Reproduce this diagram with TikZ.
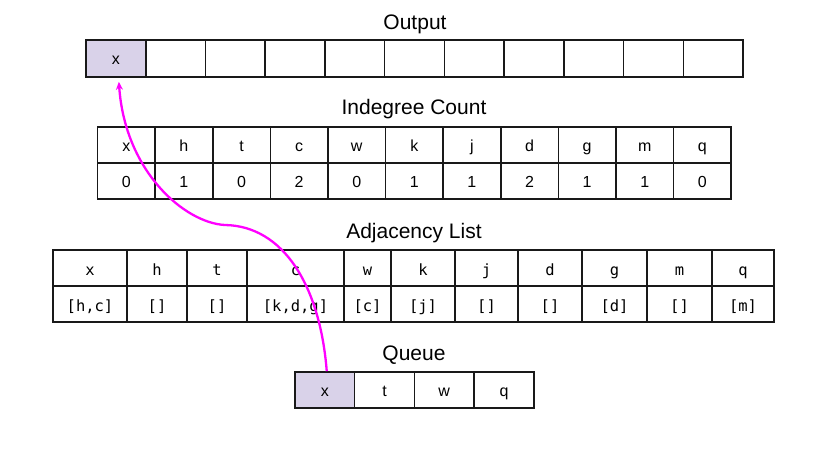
\documentclass[tikz,border=0pt]{standalone}
\usepackage{fontspec}
\setmainfont{Liberation Sans}
\newfontfamily\cellmono{DejaVu Sans Mono}
\usetikzlibrary{arrows.meta}
\definecolor{lav}{HTML}{D9D2E9}
\definecolor{arrowpink}{HTML}{FF00FF}
\tikzset{
  cellbox/.style={draw=black!90, line width=1.6pt, inner sep=0pt, anchor=center,
    text height=12pt, text depth=0pt, font=\fontsize{16}{18}\selectfont},
  monocell/.style={cellbox, text height=14pt, font=\cellmono\fontsize{15.5}{18}\selectfont},
  hot/.style={fill=lav},
  heading/.style={font=\fontsize{21}{25}\selectfont, inner sep=0pt},
  flow/.style={draw=arrowpink, line width=2.3pt, -{Stealth[length=8pt,width=7pt]}}
}
% a cell between x = #2 and #3, top y = #4, bottom y = #5
\newcommand{\tcell}[7]{%
  \node[#1, minimum width={#3-#2}, minimum height={#5-#4}] (#6) at ({(#2+#3)/2},{(#4+#5)/2}) {#7};}
\begin{document}
\begin{tikzpicture}[x=1pt,y=-1pt]
\useasboundingbox (0,0) rectangle (828,466);

% ---- Output ----
\node[heading] (outtitle) at (415,24) {Output};
\foreach \i in {1,...,11}{
  \pgfmathsetmacro{\xa}{86+(\i-1)*59.73}
  \pgfmathsetmacro{\xb}{86+\i*59.73}
  \ifnum\i=1
    \tcell{cellbox,hot}{\xa}{\xb}{40}{77}{out\i}{x}
  \else
    \tcell{cellbox}{\xa}{\xb}{40}{77}{out\i}{}
  \fi
}

% ---- Indegree Count ----
\node[heading] (indtitle) at (414,109) {Indegree Count};
\foreach \k/\v [count=\i] in {x/0,h/1,t/0,c/2,w/0,k/1,j/1,d/2,g/1,m/1,q/0}{
  \pgfmathsetmacro{\xa}{97.5+(\i-1)*57.6}
  \pgfmathsetmacro{\xb}{97.5+\i*57.6}
  \tcell{cellbox}{\xa}{\xb}{127}{163}{indk\i}{\k}
  \tcell{cellbox}{\xa}{\xb}{163}{199}{indv\i}{\v}
}

% ---- Adjacency List ----
\node[heading] (adjtitle) at (414,233) {Adjacency List};
\tcell{monocell}{53}{127}{250}{286}{adjk1}{x}
\tcell{monocell}{53}{127}{286}{322}{adjv1}{[h,c]}
\tcell{monocell}{127}{187}{250}{286}{adjk2}{h}
\tcell{monocell}{127}{187}{286}{322}{adjv2}{[]}
\tcell{monocell}{187}{247}{250}{286}{adjk3}{t}
\tcell{monocell}{187}{247}{286}{322}{adjv3}{[]}
\tcell{monocell}{247}{344}{250}{286}{adjk4}{c}
\tcell{monocell}{247}{344}{286}{322}{adjv4}{[k,d,g]}
\tcell{monocell}{344}{391}{250}{286}{adjk5}{w}
\tcell{monocell}{344}{391}{286}{322}{adjv5}{[c]}
\tcell{monocell}{391}{455}{250}{286}{adjk6}{k}
\tcell{monocell}{391}{455}{286}{322}{adjv6}{[j]}
\tcell{monocell}{455}{518}{250}{286}{adjk7}{j}
\tcell{monocell}{455}{518}{286}{322}{adjv7}{[]}
\tcell{monocell}{518}{582}{250}{286}{adjk8}{d}
\tcell{monocell}{518}{582}{286}{322}{adjv8}{[]}
\tcell{monocell}{582}{647}{250}{286}{adjk9}{g}
\tcell{monocell}{582}{647}{286}{322}{adjv9}{[d]}
\tcell{monocell}{647}{712}{250}{286}{adjk10}{m}
\tcell{monocell}{647}{712}{286}{322}{adjv10}{[]}
\tcell{monocell}{712}{774}{250}{286}{adjk11}{q}
\tcell{monocell}{712}{774}{286}{322}{adjv11}{[m]}

% ---- Queue ----
\node[heading] (qtitle) at (414,355) {Queue};
\tcell{cellbox,hot}{295}{354.5}{372}{408}{q1}{x}
\tcell{cellbox}{354.5}{414.5}{372}{408}{q2}{t}
\tcell{cellbox}{414.5}{474}{372}{408}{q3}{w}
\tcell{cellbox}{474}{534}{372}{408}{q4}{q}

% ---- dequeue x and append it to the output ----
\coordinate (swing) at (225,225);
\draw[flow] ([xshift=2pt]q1.north) .. controls (320,285) and (283,226) .. (swing)
  .. controls (185,223) and (125,172) .. ([xshift=3pt,yshift=-4pt]out1.south);
\end{tikzpicture}
\end{document}
